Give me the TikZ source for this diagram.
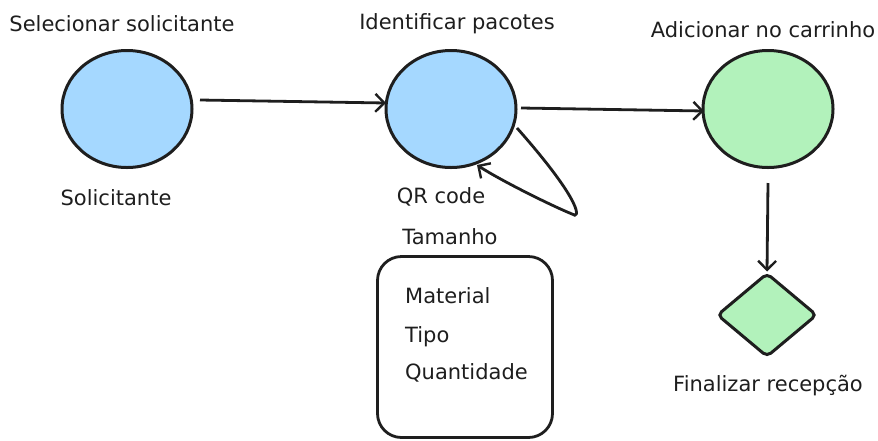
\documentclass[tikz,border=0pt]{standalone}
\usepackage{fontspec}
\setmainfont{DejaVu Sans}
\usetikzlibrary{arrows.meta,shapes.geometric}
\definecolor{ink}{HTML}{1E1E1E}
\definecolor{blueF}{HTML}{A5D8FF}
\definecolor{greenF}{HTML}{B2F2BB}
\begin{document}
\begin{tikzpicture}[x=1pt,y=-1pt,
  lbl/.style={font=\fontsize{21}{24}\selectfont, text=ink, inner sep=0pt},
  circ/.style={ellipse, draw=ink, line width=3pt, minimum width=130pt, minimum height=117pt, inner sep=0pt},
  conn/.style={draw=ink, line width=2.8pt, -{Straight Barb[length=9pt,width=18pt,line width=2.4pt]}},
  box/.style={draw=ink, line width=2.8pt, rounded corners=24pt}]
\useasboundingbox (0,0) rectangle (878,440);
\node[circ, fill=blueF] (s) at (127,109) {};
\node[circ, fill=blueF] (p) at (451,109) {};
\node[circ, fill=greenF] (c) at (768,109) {};
\node[diamond, draw=ink, fill=greenF, line width=3pt, rounded corners=5pt, minimum width=100pt, minimum height=84pt, inner sep=0pt, aspect=1.2] (f) at (767,315) {};
\node[box, minimum width=175pt, minimum height=181pt] (b) at (465,347) {};

\node[lbl] (ls) at (122,24) {Selecionar solicitante};
\node[lbl] (lp) at (457,24) {Identificar pacotes};
\node[lbl] (lc) at (763,30) {Adicionar no carrinho};
\node[lbl] (l1) at (116,198) {Solicitante};
\node[lbl] (l2) at (441,197) {QR code};
\node[lbl] (l3) at (450,237) {Tamanho};
\node[lbl, anchor=west] (m1) at (405,296) {Material};
\node[lbl, anchor=west] (m2) at (405,337) {Tipo};
\node[lbl, anchor=west] (m3) at (405,373) {Quantidade};
\node[lbl] (lf) at (768,386) {Finalizar recepção};

\coordinate (s1) at (200,100);
\coordinate (p1) at (386,103);
\coordinate (p2) at (521,108);
\coordinate (c1) at (704,111);
\coordinate (c2) at (768,183);
\coordinate (lp1) at (517,128);
\coordinate (lp2) at (572,214);
\coordinate (lp3) at (477,165);
\draw[conn] (lp1) .. controls (585,205) and (580,220) .. (lp2) .. controls (550,205) and (500,180) .. (lp3);
\draw[conn] (s1) -- (p1);
\draw[conn] (p2) -- (c1);
\draw[conn] (c2) -- (f.north);
\end{tikzpicture}
\end{document}
